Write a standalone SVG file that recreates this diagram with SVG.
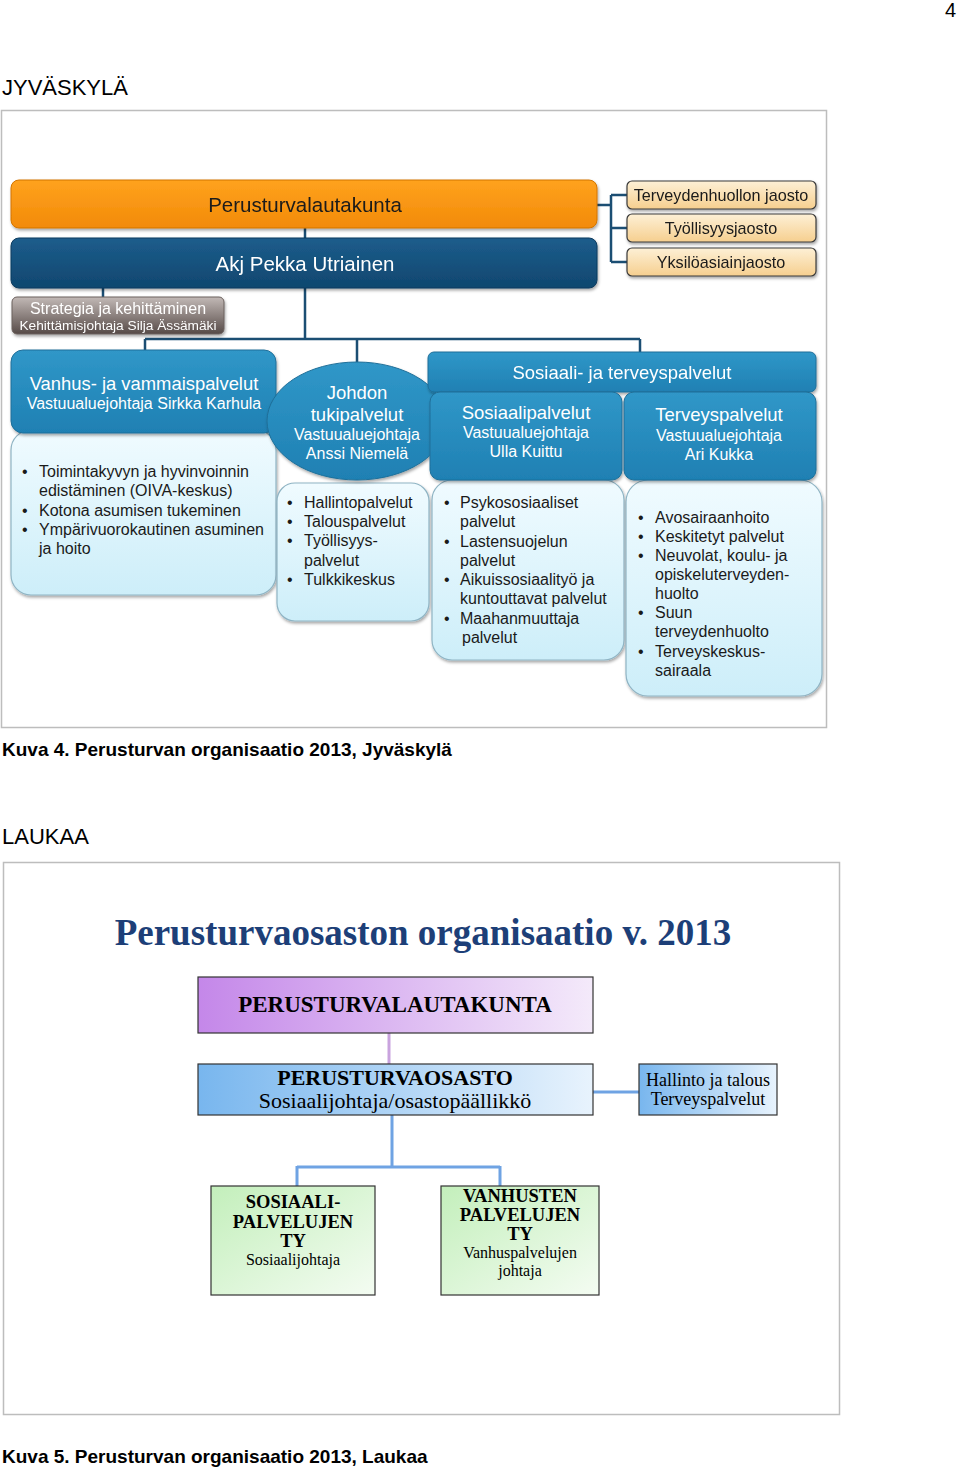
<svg xmlns="http://www.w3.org/2000/svg" width="960" height="1468" viewBox="0 0 960 1468">
<style>
.pg{font-family:"Liberation Sans",Arial,sans-serif;fill:#000}
.cap{font-family:"Liberation Sans",Arial,sans-serif;font-weight:bold;font-size:19px;fill:#000}
.s{font-family:"Liberation Sans",Arial,sans-serif}
.w{fill:#fff}
.d{fill:#1a1a1a}
.hd{fill:url(#gBlue);stroke:#1f6f99;stroke-width:1}
.bd{fill:url(#gBody);stroke:#8fb4c4;stroke-width:1.2}
.jo{fill:url(#gJao);stroke:#3a3a3a;stroke-width:1.2}
.con{stroke:#1b4e73;stroke-width:2.5;fill:none}
.sr{font-family:"Liberation Serif","Times New Roman",serif;fill:#000}
.lb{stroke:#333;stroke-width:1.2}
</style>
<defs>
<linearGradient id="gOr" x1="0" y1="0" x2="0" y2="1"><stop offset="0" stop-color="#ffa21e"/><stop offset="1" stop-color="#f28a08"/></linearGradient>
<linearGradient id="gDk" x1="0" y1="0" x2="0" y2="1"><stop offset="0" stop-color="#1d5d8c"/><stop offset="1" stop-color="#0f476f"/></linearGradient>
<linearGradient id="gGr" x1="0" y1="0" x2="0" y2="1"><stop offset="0" stop-color="#c2b9b6"/><stop offset="1" stop-color="#564a47"/></linearGradient>
<linearGradient id="gBlue" x1="0" y1="0" x2="0" y2="1"><stop offset="0" stop-color="#3097c8"/><stop offset="1" stop-color="#1f80b3"/></linearGradient>
<linearGradient id="gBody" x1="0" y1="0" x2="0" y2="1"><stop offset="0" stop-color="#f0fbff"/><stop offset="1" stop-color="#cdeef9"/></linearGradient>
<linearGradient id="gJao" x1="0" y1="0" x2="0" y2="1"><stop offset="0" stop-color="#fdf0d6"/><stop offset="1" stop-color="#f6cf8f"/></linearGradient>
<linearGradient id="gPur" x1="0" y1="0" x2="1" y2="0"><stop offset="0" stop-color="#c487e9"/><stop offset="1" stop-color="#f4eafa"/></linearGradient>
<linearGradient id="gLb" x1="0" y1="0" x2="1" y2="0"><stop offset="0" stop-color="#78b6ee"/><stop offset="1" stop-color="#e8f3fd"/></linearGradient>
<linearGradient id="gGn" x1="0" y1="0" x2="1" y2="1"><stop offset="0" stop-color="#c3efbb"/><stop offset="1" stop-color="#f4fcf2"/></linearGradient>
<filter id="sh" x="-10%" y="-10%" width="120%" height="130%"><feDropShadow dx="1" dy="2" stdDeviation="1.5" flood-color="#000" flood-opacity="0.35"/></filter>
</defs>

<rect width="960" height="1468" fill="#fff"/>

<!-- page texts -->
<text class="pg" x="945" y="17" font-size="20">4</text>
<text class="pg" x="2" y="95" font-size="22">JYVÄSKYLÄ</text>
<rect x="1.5" y="110.5" width="825" height="617" fill="none" stroke="#bdbdbd" stroke-width="1.5"/>
<text class="cap" x="2" y="756">Kuva 4. Perusturvan organisaatio 2013, Jyväskylä</text>
<text class="pg" x="2" y="844" font-size="22">LAUKAA</text>
<rect x="3.5" y="862.5" width="836" height="552" fill="none" stroke="#bdbdbd" stroke-width="1.5"/>
<text class="cap" x="2" y="1463">Kuva 5. Perusturvan organisaatio 2013, Laukaa</text>

<!-- Jyväskylä connectors -->
<g id="connectors-top">
<path class="con" d="M305 228V238"/>
<path class="con" d="M103 288V298"/>
<path class="con" d="M305 288V339M145 339H640M145 339V351M357 339V363M640 339V353"/>
<path class="con" d="M597 205H611M611 195V262M611 195H627M611 228H627M611 262H627"/>
</g>

<g id="perusturvalautakunta" filter="url(#sh)">
<rect x="11" y="180" width="586" height="48" rx="8" fill="url(#gOr)" stroke="#d27500"/>
<text class="s d" x="305" y="212" font-size="20.5" text-anchor="middle">Perusturvalautakunta</text>
</g>
<g id="akj" filter="url(#sh)">
<rect x="11" y="238" width="586" height="50" rx="8" fill="url(#gDk)" stroke="#0c3b5e"/>
<text class="s w" x="305" y="271" font-size="20.5" text-anchor="middle">Akj Pekka Utriainen</text>
</g>
<g id="strategia" filter="url(#sh)">
<rect x="12" y="297" width="212" height="37" rx="5" fill="url(#gGr)" stroke="#6b605d"/>
<text class="s w" x="118" y="314" font-size="16" text-anchor="middle">Strategia ja kehittäminen</text>
<text class="s w" x="118" y="330" font-size="13.7" text-anchor="middle">Kehittämisjohtaja Silja Ässämäki</text>
</g>
<g id="jaosto1" filter="url(#sh)">
<rect class="jo" x="627" y="181" width="189" height="28" rx="5"/>
<text class="s d" x="721" y="200.5" font-size="16.2" text-anchor="middle">Terveydenhuollon jaosto</text>
</g>
<g id="jaosto2" filter="url(#sh)">
<rect class="jo" x="627" y="214" width="189" height="28" rx="5"/>
<text class="s d" x="721" y="233.5" font-size="16.2" text-anchor="middle">Työllisyysjaosto</text>
</g>
<g id="jaosto3" filter="url(#sh)">
<rect class="jo" x="627" y="248" width="189" height="28" rx="5"/>
<text class="s d" x="721" y="267.5" font-size="16.2" text-anchor="middle">Yksilöasiainjaosto</text>
</g>

<!-- Vanhus -->
<g id="vanhus">
<rect class="bd" x="11" y="430" width="265" height="165" rx="20" filter="url(#sh)"/>
<rect class="hd" x="11" y="350" width="265" height="83" rx="12" filter="url(#sh)"/>
<text class="s w" x="144" y="390" font-size="18.4" text-anchor="middle">Vanhus- ja vammaispalvelut</text>
<text class="s w" x="144" y="409" font-size="16" text-anchor="middle">Vastuualuejohtaja Sirkka Karhula</text>
<g class="s d" font-size="16">
<text x="22" y="477">•</text><text x="39" y="477">Toimintakyvyn ja hyvinvoinnin</text>
<text x="39" y="496">edistäminen (OIVA-keskus)</text>
<text x="22" y="516">•</text><text x="39" y="516">Kotona asumisen tukeminen</text>
<text x="22" y="535">•</text><text x="39" y="535">Ympärivuorokautinen asuminen</text>
<text x="39" y="554">ja hoito</text>
</g>
</g>

<!-- Johdon tukipalvelut -->
<g id="johdon">
<rect class="bd" x="277" y="483" width="152" height="138" rx="18" filter="url(#sh)"/>
<ellipse cx="357" cy="421" rx="90" ry="59" fill="url(#gBlue)" stroke="#1f6f99" filter="url(#sh)"/>
<text class="s w" x="357" y="399" font-size="18.5" text-anchor="middle">Johdon</text>
<text class="s w" x="357" y="421" font-size="18.5" text-anchor="middle">tukipalvelut</text>
<text class="s w" x="357" y="440" font-size="16" text-anchor="middle">Vastuualuejohtaja</text>
<text class="s w" x="357" y="459" font-size="16" text-anchor="middle">Anssi Niemelä</text>
<g class="s d" font-size="16">
<text x="287" y="508">•</text><text x="304" y="508">Hallintopalvelut</text>
<text x="287" y="527">•</text><text x="304" y="527">Talouspalvelut</text>
<text x="287" y="546">•</text><text x="304" y="546">Työllisyys-</text>
<text x="304" y="566">palvelut</text>
<text x="287" y="585">•</text><text x="304" y="585">Tulkkikeskus</text>
</g>
</g>

<!-- Sosiaali- ja terveyspalvelut -->
<g id="sote" filter="url(#sh)">
<rect class="hd" x="428" y="352" width="388" height="40" rx="6"/>
<text class="s w" x="622" y="379" font-size="18.5" text-anchor="middle">Sosiaali- ja terveyspalvelut</text>
</g>
<g id="sosiaalipalvelut">
<rect class="bd" x="432" y="480" width="192" height="180" rx="20" filter="url(#sh)"/>
<rect class="hd" x="430" y="392" width="192" height="88" rx="10" filter="url(#sh)"/>
<text class="s w" x="526" y="419" font-size="18.5" text-anchor="middle">Sosiaalipalvelut</text>
<text class="s w" x="526" y="438" font-size="16" text-anchor="middle">Vastuualuejohtaja</text>
<text class="s w" x="526" y="457" font-size="16" text-anchor="middle">Ulla Kuittu</text>
<g class="s d" font-size="16">
<text x="444" y="508">•</text><text x="460" y="508">Psykososiaaliset</text>
<text x="460" y="527">palvelut</text>
<text x="444" y="547">•</text><text x="460" y="547">Lastensuojelun</text>
<text x="460" y="566">palvelut</text>
<text x="444" y="585">•</text><text x="460" y="585">Aikuissosiaalityö ja</text>
<text x="460" y="604">kuntouttavat palvelut</text>
<text x="444" y="624">•</text><text x="460" y="624">Maahanmuuttaja</text>
<text x="462" y="643">palvelut</text>
</g>
</g>
<g id="terveyspalvelut">
<rect class="bd" x="626" y="480" width="196" height="216" rx="22" filter="url(#sh)"/>
<rect class="hd" x="624" y="392" width="192" height="88" rx="10" filter="url(#sh)"/>
<text class="s w" x="719" y="421" font-size="18.5" text-anchor="middle">Terveyspalvelut</text>
<text class="s w" x="719" y="441" font-size="16" text-anchor="middle">Vastuualuejohtaja</text>
<text class="s w" x="719" y="460" font-size="16" text-anchor="middle">Ari Kukka</text>
<g class="s d" font-size="16">
<text x="638" y="523">•</text><text x="655" y="523">Avosairaanhoito</text>
<text x="638" y="542">•</text><text x="655" y="542">Keskitetyt palvelut</text>
<text x="638" y="561">•</text><text x="655" y="561">Neuvolat, koulu- ja</text>
<text x="655" y="580">opiskeluterveyden-</text>
<text x="655" y="599">huolto</text>
<text x="638" y="618">•</text><text x="655" y="618">Suun</text>
<text x="655" y="637">terveydenhuolto</text>
<text x="638" y="657">•</text><text x="655" y="657">Terveyskeskus-</text>
<text x="655" y="676">sairaala</text>
</g>
</g>

<!-- Laukaa -->
<text class="sr" x="423" y="945" font-size="37" font-weight="bold" text-anchor="middle" style="fill:#1d3f78">Perusturvaosaston organisaatio v. 2013</text>

<g id="connectors-bottom" fill="none">
<path d="M389 1033V1064" stroke="#c9a3de" stroke-width="3"/>
<path d="M593 1092H639" stroke="#6fa3e3" stroke-width="3"/>
<path d="M392 1115V1167M297 1167H500M297 1166V1186M500 1166V1186" stroke="#6fa3e3" stroke-width="3"/>
</g>

<g id="ptlk">
<rect class="lb" x="198" y="977" width="395" height="56" fill="url(#gPur)"/>
<text class="sr" x="395" y="1012" font-size="23" font-weight="bold" text-anchor="middle">PERUSTURVALAUTAKUNTA</text>
</g>
<g id="ptos">
<rect class="lb" x="198" y="1064" width="395" height="51" fill="url(#gLb)"/>
<text class="sr" x="395" y="1085" font-size="22" font-weight="bold" text-anchor="middle">PERUSTURVAOSASTO</text>
<text class="sr" x="395" y="1108" font-size="22" text-anchor="middle">Sosiaalijohtaja/osastopäällikkö</text>
</g>
<g id="hallinto">
<rect class="lb" x="639" y="1064" width="138" height="51" fill="url(#gLb)"/>
<text class="sr" x="708" y="1086" font-size="18" text-anchor="middle">Hallinto ja talous</text>
<text class="sr" x="708" y="1105" font-size="18" text-anchor="middle">Terveyspalvelut</text>
</g>
<g id="sosty">
<rect class="lb" x="211" y="1186" width="164" height="109" fill="url(#gGn)"/>
<text class="sr" x="293" y="1208" font-size="18.5" font-weight="bold" text-anchor="middle">SOSIAALI-</text>
<text class="sr" x="293" y="1228" font-size="18.5" font-weight="bold" text-anchor="middle">PALVELUJEN</text>
<text class="sr" x="293" y="1247" font-size="18.5" font-weight="bold" text-anchor="middle">TY</text>
<text class="sr" x="293" y="1265" font-size="16" text-anchor="middle">Sosiaalijohtaja</text>
</g>
<g id="vanty">
<rect class="lb" x="441" y="1186" width="158" height="109" fill="url(#gGn)"/>
<text class="sr" x="520" y="1202" font-size="18.5" font-weight="bold" text-anchor="middle">VANHUSTEN</text>
<text class="sr" x="520" y="1221" font-size="18.5" font-weight="bold" text-anchor="middle">PALVELUJEN</text>
<text class="sr" x="520" y="1240" font-size="18.5" font-weight="bold" text-anchor="middle">TY</text>
<text class="sr" x="520" y="1258" font-size="16" text-anchor="middle">Vanhuspalvelujen</text>
<text class="sr" x="520" y="1276" font-size="16" text-anchor="middle">johtaja</text>
</g>
</svg>
